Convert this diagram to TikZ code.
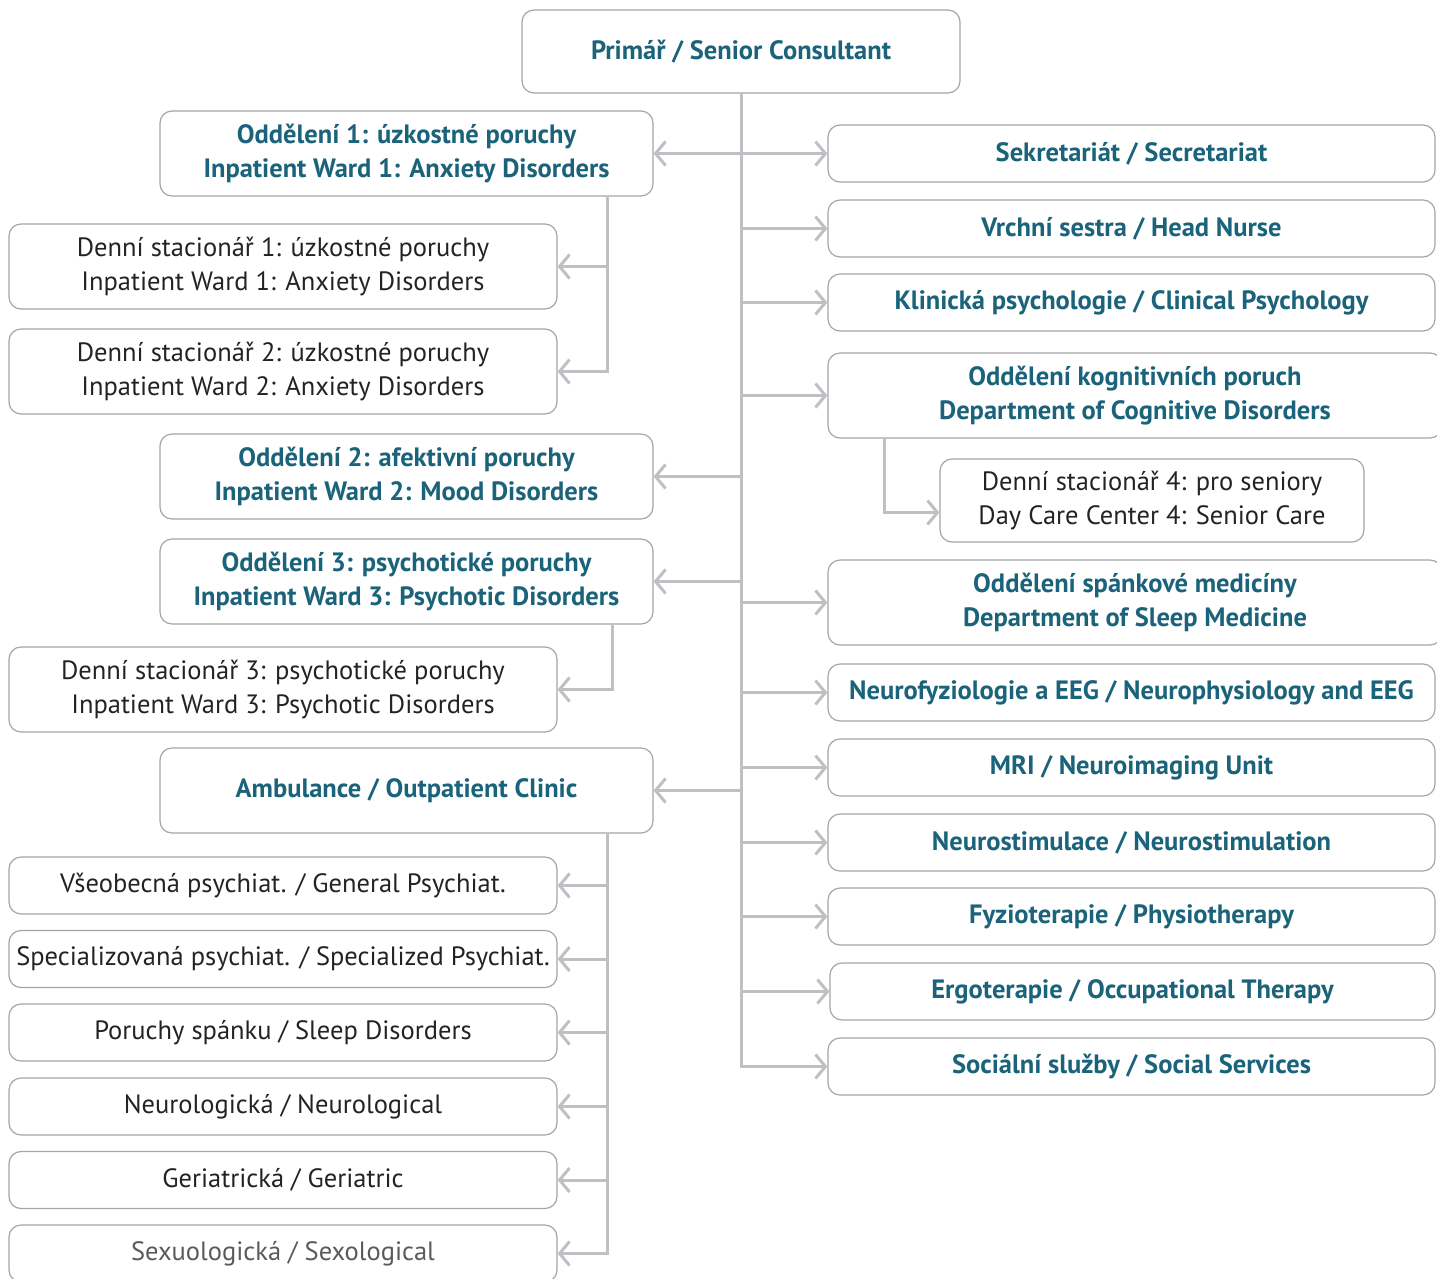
\documentclass[tikz,border=0pt]{standalone}
\usepackage{fontspec}
\setmainfont{PT Sans}
\usepackage{tikz}
\usetikzlibrary{positioning,arrows.meta,calc}
\definecolor{headteal}{RGB}{26,99,122}
\definecolor{ink}{RGB}{35,35,35}
\definecolor{boxgray}{RGB}{165,165,168}
\definecolor{linegray}{RGB}{192,192,196}
\tikzset{
  box/.style={draw=boxgray, line width=1.2pt, rounded corners=12pt, align=center, inner sep=0pt, text=ink, font=\fontsize{26.5}{34}\selectfont},
  headbox/.style={box, text=headteal, font=\fontsize{26.5}{34}\selectfont\bfseries},
  leftbig/.style={headbox, minimum width=493, minimum height=85},
  leftsmall/.style={box, minimum width=548, minimum height=85},
  leftlow/.style={box, minimum width=548, minimum height=57},
  rightbox/.style={headbox, minimum width=607, minimum height=57},
  link/.style={draw=linegray, line width=3pt, -{Straight Barb[length=10pt,width=24pt]}},
}
\begin{document}
\begin{tikzpicture}[x=1pt,y=-1pt]
\useasboundingbox (0,0) rectangle (1437,1278);

% head of the clinic
\node[headbox, minimum width=438, minimum height=83] (prim) at (741,51.5) {Primář / Senior Consultant};

% wards on the left
\node[leftbig] (ward1) at (406.5,153.5) {Oddělení 1: úzkostné poruchy\\Inpatient Ward 1: Anxiety Disorders};
\node[leftsmall] (day1) at (283,266.5) {Denní stacionář 1: úzkostné poruchy\\Inpatient Ward 1: Anxiety Disorders};
\node[leftsmall] (day2) at (283,371.5) {Denní stacionář 2: úzkostné poruchy\\Inpatient Ward 2: Anxiety Disorders};
\node[leftbig] (ward2) at (406.5,476.5) {Oddělení 2: afektivní poruchy\\Inpatient Ward 2: Mood Disorders};
\node[leftbig] (ward3) at (406.5,581.5) {Oddělení 3: psychotické poruchy\\Inpatient Ward 3: Psychotic Disorders};
\node[leftsmall] (day3) at (283,689.5) {Denní stacionář 3: psychotické poruchy\\Inpatient Ward 3: Psychotic Disorders};
\node[leftbig] (amb) at (406.5,790.5) {Ambulance / Outpatient Clinic};

% outpatient units
\node[leftlow] (gen) at (283,885.5) {Všeobecná psychiat. / General Psychiat.};
\node[leftlow] (spec) at (283,959) {Specializovaná psychiat. / Specialized Psychiat.};
\node[leftlow] (sleepdis) at (283,1032.5) {Poruchy spánku / Sleep Disorders};
\node[leftlow] (neuro) at (283,1106.5) {Neurologická / Neurological};
\node[leftlow] (geri) at (283,1180) {Geriatrická / Geriatric};
\node[leftlow, text=ink!75] (sexo) at (283,1253.5) {Sexuologická / Sexological};

% departments on the right
\node[rightbox] (secr) at (1131.5,153.5) {Sekretariát / Secretariat};
\node[rightbox] (nurse) at (1131.5,228.5) {Vrchní sestra / Head Nurse};
\node[rightbox] (psych) at (1131.5,302.5) {Klinická psychologie / Clinical Psychology};
\node[rightbox, minimum width=614, minimum height=85] (cogn) at (1135,395.5) {Oddělení kognitivních poruch\\Department of Cognitive Disorders};
\node[box, minimum width=424, minimum height=83] (day4) at (1152,500.5) {Denní stacionář 4: pro seniory\\Day Care Center 4: Senior Care};
\node[rightbox, minimum width=614, minimum height=85] (sleep) at (1135,602.5) {Oddělení spánkové medicíny\\Department of Sleep Medicine};
\node[rightbox] (eeg) at (1131.5,692.5) {Neurofyziologie a EEG / Neurophysiology and EEG};
\node[rightbox] (mri) at (1131.5,767.5) {MRI / Neuroimaging Unit};
\node[rightbox] (stim) at (1131.5,842.5) {Neurostimulace / Neurostimulation};
\node[rightbox] (physio) at (1131.5,916.5) {Fyzioterapie / Physiotherapy};
\node[rightbox, minimum width=605] (ergo) at (1132.5,991.5) {Ergoterapie / Occupational Therapy};
\node[rightbox] (social) at (1131.5,1066.5) {Sociální služby / Social Services};

% trunk and branches
\draw[link] (prim.south) |- (social.west);
\draw[link, {Straight Barb[length=10pt,width=24pt]}-{Straight Barb[length=10pt,width=24pt]}] (ward1.east) -- (secr.west);
\foreach \dep in {nurse,psych,cogn,sleep,eeg,mri,stim,physio,ergo}
  \draw[link] (prim.south |- \dep.west) -- (\dep.west);
\foreach \ward in {ward2,ward3,amb}
  \draw[link] (prim.south |- \ward.east) -- (\ward.east);

% sub-branches
\coordinate (w1foot) at ([xshift=-46]ward1.south east);
\draw[link] (w1foot) |- (day2.east);
\draw[link] (w1foot |- day1.east) -- (day1.east);
\coordinate (w3foot) at ([xshift=-41]ward3.south east);
\draw[link] (w3foot) |- (day3.east);
\coordinate (ambfoot) at ([xshift=-46]amb.south east);
\draw[link] (ambfoot) |- (sexo.east);
\foreach \unit in {gen,spec,sleepdis,neuro,geri}
  \draw[link] (ambfoot |- \unit.east) -- (\unit.east);
\coordinate (cognfoot) at ([xshift=57]cogn.south west);
\draw[link] (cognfoot) |- ([yshift=-12]day4.west);
\end{tikzpicture}
\end{document}
